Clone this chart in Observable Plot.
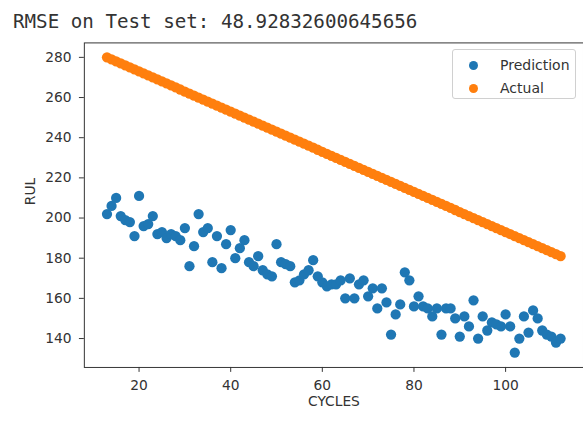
<!DOCTYPE html>
<html>
<head>
<meta charset="utf-8">
<script src="https://cdn.jsdelivr.net/npm/d3@7"></script>
<script src="https://cdn.jsdelivr.net/npm/@observablehq/plot@0.6"></script>
<style>
  html, body { margin: 0; padding: 0; background: #fff; width: 583px; height: 422px; overflow: hidden; }
  #wrap { position: relative; width: 583px; height: 422px; overflow: hidden; }
  #title { position: absolute; left: 13px; top: 10px; font-family: "DejaVu Sans Mono", monospace; font-size: 19.2px; color: #333; white-space: nowrap; }
  #chart { position: absolute; left: 0; top: 0; }
  #legend { position: absolute; left: 452px; top: 49px; width: 124px; height: 50px; border: 1px solid #d0d0d0; border-radius: 3px; background: #fff; font-family: "DejaVu Sans", sans-serif; font-size: 14px; color: #333; box-sizing: border-box; }
  .row { position: absolute; left: 0; height: 20px; line-height: 20px; }
  .sw { position: absolute; left: 16px; top: 6px; width: 9px; height: 9px; border-radius: 50%; }
  .lab { position: absolute; left: 47px; top: 0; white-space: nowrap; }
</style>
</head>
<body>
<div id="wrap">
  <div id="chart"></div>
  <div id="title"></div>
  <div id="legend"></div>
</div>
<script>
const titleText = "RMSE on Test set: 48.92832600645656";
const xLabel = "CYCLES";
const yLabel = "RUL";
const seriesNames = ["Prediction", "Actual"];
const seriesColors = ["#1f77b4", "#ff7f0e"];
const xTicks = [20, 40, 60, 80, 100];
const yTicks = [140, 160, 180, 200, 220, 240, 260, 280];

const cycles = [13,14,15,16,17,18,19,20,21,22,23,24,25,26,27,28,29,30,31,32,33,34,35,36,37,38,39,40,41,42,43,44,45,46,47,48,49,50,51,52,53,54,55,56,57,58,59,60,61,62,63,64,65,66,67,68,69,70,71,72,73,74,75,76,77,78,79,80,81,82,83,84,85,86,87,88,89,90,91,92,93,94,95,96,97,98,99,100,101,102,103,104,105,106,107,108,109,110,111,112];

const prediction = [202,206,210,201,199,198,191,211,196,197,201,192,193,190,192,191,189,195,176,186,202,193,195,178,191,175,187,194,180,185,189,178,176,181,174,172,171,187,178,177,176,168,169,172,174,179,171,168,166,167,167,169,160,170,160,167,169,161,165,155,165,158,142,152,157,173,169,156,161,156,155,151,155,142,155,155,150,141,151,146,159,140,151,144,148,147,146,152,146,133,140,151,143,154,150,144,142,141,138,140];

const actual = [280,279,278,277,276,275,274,273,272,271,270,269,268,267,266,265,264,263,262,261,260,259,258,257,256,255,254,253,252,251,250,249,248,247,246,245,244,243,242,241,240,239,238,237,236,235,234,233,232,231,230,229,228,227,226,225,224,223,222,221,220,219,218,217,216,215,214,213,212,211,210,209,208,207,206,205,204,203,202,201,200,199,198,197,196,195,194,193,192,191,190,189,188,187,186,185,184,183,182,181];

const predData = cycles.map((c, i) => ({cycle: c, rul: prediction[i]}));
const actData = cycles.map((c, i) => ({cycle: c, rul: actual[i]}));

document.getElementById("title").textContent = titleText;

const chart = Plot.plot({
  width: 591,
  height: 422,
  marginLeft: 85,
  marginRight: 0,
  marginTop: 43,
  marginBottom: 50,
  style: { fontFamily: "DejaVu Sans, sans-serif", fontSize: "14px", color: "#333", background: "transparent", overflow: "visible" },
  x: { domain: [8.06, 117.0] },
  y: { domain: [125.6, 287.2] },
  marks: [
    Plot.frame({ stroke: "#333", strokeWidth: 1 }),
    Plot.axisX({ ticks: xTicks, tickSize: 5, tickPadding: 8, label: null, fontSize: 14 }),
    Plot.axisY({ ticks: yTicks, tickSize: 5, tickPadding: 8, label: null, fontSize: 14 }),
    Plot.dot(predData, { x: "cycle", y: "rul", r: 5.2, fill: seriesColors[0], stroke: "none" }),
    Plot.dot(actData, { x: "cycle", y: "rul", r: 5.2, fill: seriesColors[1], stroke: "none" }),
    Plot.text([xLabel], { frameAnchor: "bottom", dy: 39.5, text: d => d, fontSize: 14, fill: "#333" }),
    Plot.text([yLabel], { frameAnchor: "left", dx: -55, rotate: -90, text: d => d, fontSize: 14, fill: "#333" })
  ]
});
document.getElementById("chart").appendChild(chart);

const legend = document.getElementById("legend");
seriesNames.forEach((name, i) => {
  const row = document.createElement("div");
  row.className = "row";
  row.style.top = (5 + i * 23) + "px";
  row.style.width = "100%";
  const sw = document.createElement("div");
  sw.className = "sw";
  sw.style.background = seriesColors[i];
  const lab = document.createElement("div");
  lab.className = "lab";
  lab.textContent = name;
  row.appendChild(sw);
  row.appendChild(lab);
  legend.appendChild(row);
});
</script>
</body>
</html>
